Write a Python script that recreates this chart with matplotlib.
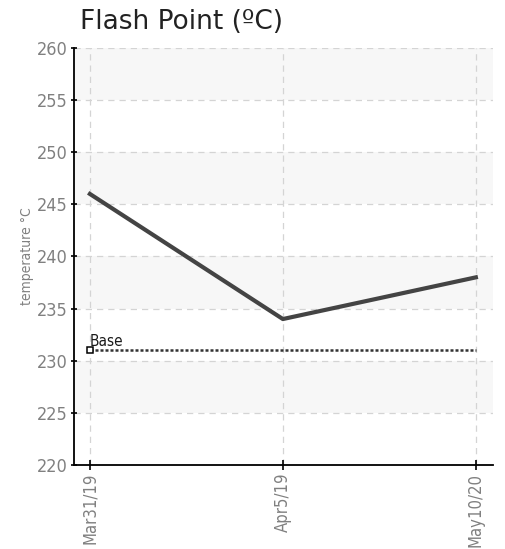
import matplotlib
matplotlib.use('Agg')
import matplotlib.pyplot as plt

dates = ['Mar31/19', 'Apr5/19', 'May10/20']
flash_point = [246, 234, 238]
base_value = 231
y_ticks = [220, 225, 230, 235, 240, 245, 250, 255, 260]

narrow = dict(family='DejaVu Sans', stretch='condensed')

fig = plt.figure(figsize=(5.06, 5.49), dpi=100)
ax = fig.add_axes([0.146, 0.153, 0.828, 0.7596])

x = list(range(len(dates)))
ax.set_xlim(-0.083, 2.088)
ax.set_ylim(220, 260)

# alternating bands
for lo in range(225, 260, 10):
    ax.axhspan(lo, lo + 5, color='#f7f7f7', zorder=0, lw=0)

ax.grid(True, linestyle=(0, (5, 4)), color='#d4d4d4', lw=0.9)
ax.set_axisbelow(True)

ax.plot(x, flash_point, color='#444444', lw=3, zorder=3)
ax.plot([x[0], x[-1]], [base_value, base_value], color='#333333', lw=1.8,
        linestyle=(0, (1.2, 0.8)), zorder=3)
ax.plot([x[0]], [base_value], marker='s', ms=5, mfc='white', mec='black', mew=1.1, zorder=4)
ax.annotate('Base', (x[0], base_value), xytext=(0, 3), textcoords='offset points',
            fontsize=11, color='#1a1a1a', **narrow)

ax.set_xticks(x)
ax.set_xticklabels(dates, rotation=90, fontsize=12, color='#808080', **narrow)
ax.set_yticks(y_ticks)
ax.set_yticklabels([str(v) for v in y_ticks], fontsize=13, color='#808080', **narrow)
ax.tick_params(axis='y', length=5, width=1.2, direction='inout', pad=2)
ax.tick_params(axis='x', length=7, width=1.2, direction='inout', pad=2)

for s in ['top', 'right']:
    ax.spines[s].set_visible(False)
for s in ['left', 'bottom']:
    ax.spines[s].set_linewidth(1.3)

ax.set_ylabel('temperature °C', fontsize=10, color='#808080', labelpad=2, **narrow)

fig.text(0.158, 0.96, 'Flash Point (ºC)', fontsize=19, color='#222222', va='center', ha='left')

fig.savefig('out.png', dpi=100)
